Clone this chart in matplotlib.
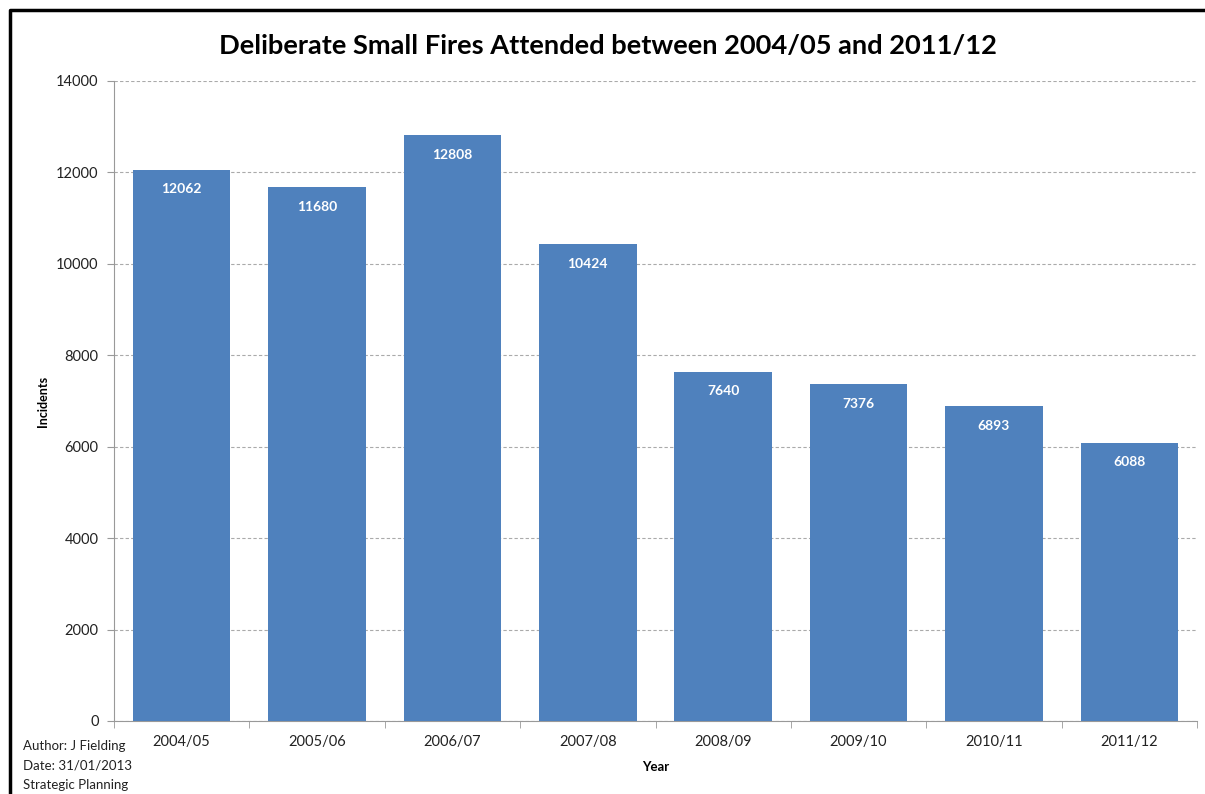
import numpy as np
import matplotlib
matplotlib.use("Agg")
import matplotlib.pyplot as plt
from matplotlib.lines import Line2D

years = ["2004/05", "2005/06", "2006/07", "2007/08",
         "2008/09", "2009/10", "2010/11", "2011/12"]
incidents = [12062, 11680, 12808, 10424, 7640, 7376, 6893, 6088]
y_ticks = [0, 2000, 4000, 6000, 8000, 10000, 12000, 14000]

plt.rcParams["font.family"] = ["Lato", "DejaVu Sans"]

W, H = 1205, 794
fig = plt.figure(figsize=(W / 100, H / 100), dpi=100, facecolor="white")
ax = fig.add_axes([114 / W, 1 - 721 / H, (1197 - 114) / W, (721 - 81) / H])

x = np.arange(len(years))
ax.bar(x, incidents, width=0.72, color="#4F81BD", zorder=3)
for xi, v in zip(x, incidents):
    ax.text(xi, v - 300, f"{v}", ha="center", va="top", color="white",
            fontsize=10, fontweight="bold", zorder=4)

ax.set_xlim(-0.5, len(years) - 0.5)
ax.set_ylim(0, 14000)
ax.set_yticks(y_ticks)
ax.set_yticklabels([str(t) for t in y_ticks], fontsize=10.5, color="#222222")
ax.set_xticks(x)
ax.set_xticklabels(years, fontsize=10.5, color="#222222")
ax.set_xticks(np.arange(-0.5, len(years)), minor=True)
ax.tick_params(axis="x", which="major", length=0, pad=10)
ax.tick_params(axis="x", which="minor", length=5, color="#999999", direction="out")
ax.tick_params(axis="y", length=5, color="#999999", direction="out", pad=6)
ax.yaxis.grid(True, linestyle=(0, (3, 2)), color="#aaaaaa", linewidth=0.8, zorder=0)
for s in ["top", "right"]:
    ax.spines[s].set_visible(False)
for s in ["left", "bottom"]:
    ax.spines[s].set_color("#999999")

ax.set_ylabel("Incidents", fontsize=9, fontweight="bold", labelpad=5)
ax.set_xlabel("Year", fontsize=9.5, fontweight="bold", labelpad=9)

fig.text(608 / W, 1 - 46 / H, "Deliberate Small Fires Attended between 2004/05 and 2011/12",
         ha="center", va="center", fontsize=19.6, fontweight="bold")

for i, line in enumerate(["Author: J Fielding", "Date: 31/01/2013", "Strategic Planning"]):
    fig.text(23 / W, 1 - (746 + i * 19.5) / H, line, ha="left", va="center",
             fontsize=9.5, color="#222222")

# frame of the cropped chart area (left and top edges)
fig.add_artist(Line2D([10 / W, 10 / W, 1.0], [0.0, 1 - 10 / H, 1 - 10 / H],
                      transform=fig.transFigure, color="black", linewidth=2.5))

plt.savefig("out.png", dpi=100, facecolor="white")
plt.close()
